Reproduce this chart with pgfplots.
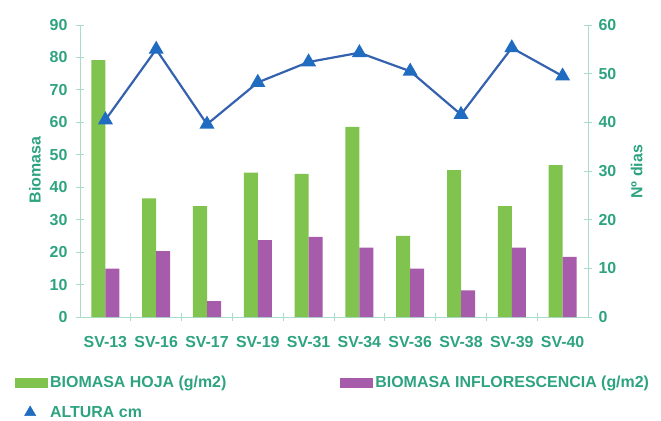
\documentclass[border=0pt]{standalone}
\usepackage{pgfplots}
\pgfplotsset{compat=1.18}
\usepackage{fontspec}
\setmainfont{Liberation Sans}
\definecolor{txtgreen}{HTML}{2DA37F}
\definecolor{axgreen}{HTML}{A9DCCB}
\definecolor{bargreen}{HTML}{80C34F}
\definecolor{barpurple}{HTML}{A65CAA}
\definecolor{linblue}{HTML}{3562AE}
\definecolor{mkblue}{HTML}{1F6CC0}
\pgfplotstableread{
x hoja inflo altura
0 79.2 14.9 40.5
1 36.6 20.3 55.0
2 34.2 4.9 39.6
3 44.5 23.7 48.2
4 44.1 24.7 52.4
5 58.6 21.4 54.3
6 25.0 14.9 50.5
7 45.3 8.2 41.6
8 34.2 21.4 55.3
9 46.8 18.5 49.5
}\data
\begin{document}
\begin{tikzpicture}[font=\fontsize{16}{19}\selectfont\bfseries]
\path[use as bounding box] (-80bp,-104bp) rectangle (581bp,317bp);
\begin{axis}[
  scale only axis, width=508bp, height=292bp,
  at={(0,0)}, anchor=south west,
  xmin=-0.5, xmax=9.5, ymin=0, ymax=90,
  axis x line=bottom, axis y line=left,
  axis line style={draw=axgreen, line width=0.8bp, -},
  x axis line style={-}, y axis line style={-},
  xtick={0,...,9},
  xticklabels={SV-13,SV-16,SV-17,SV-19,SV-31,SV-34,SV-36,SV-38,SV-39,SV-40},
  minor xtick={0.5,1.5,...,8.5},
  major x tick style={draw=none},
  minor tick length=8bp, major tick length=8bp,
  tick align=center,
  tick style={draw=axgreen, line width=0.8bp},
  ytick={0,10,...,90},
  ticklabel style={text=txtgreen, font=\fontsize{16}{19}\selectfont\bfseries},
  /pgf/number format/assume math mode=true,
  xticklabel style={yshift=-12bp},
  yticklabel style={xshift=-5bp},
  ylabel={Biomasa},
  every axis y label/.style={at={(axis description cs:-0.0886,0.503)}, rotate=90, anchor=center, text=txtgreen, font=\fontsize{16}{19}\selectfont\bfseries},
  legend columns=2,
  legend style={at={(-0.128,-0.195)}, anchor=north west, draw=none, fill=none,
    inner sep=0pt, text=txtgreen, font=\fontsize{16}{19}\selectfont\bfseries,
    /tikz/every even column/.append style={column sep=112bp},
    row sep=13bp},
  legend cell align=left,
]
\addplot[ybar, bar width=14bp, bar shift=-7bp, fill=bargreen, draw=none,
  legend image code/.code={\fill[bargreen] (0bp,-5bp) rectangle (33bp,5bp);}]
  table[x=x, y=hoja] {\data};
\addlegendentry{BIOMASA HOJA (g/m2)}
\addplot[ybar, bar width=14bp, bar shift=7bp, fill=barpurple, draw=none,
  legend image code/.code={\fill[barpurple] (0bp,-5bp) rectangle (33bp,5bp);}]
  table[x=x, y=inflo] {\data};
\addlegendentry{BIOMASA INFLORESCENCIA (g/m2)}
\addlegendimage{only marks, mark=triangle*, mark size=6.5bp, color=mkblue,
  legend image code/.code={\draw[mkblue, fill=mkblue] plot[mark=triangle*, mark size=6.5bp] coordinates {(15bp,0bp)};}}
\addlegendentry{ALTURA cm}
\end{axis}
\begin{axis}[
  scale only axis, width=508bp, height=292bp,
  at={(0,0)}, anchor=south west,
  xmin=-0.5, xmax=9.5, ymin=0, ymax=60,
  axis x line=none, axis y line=right,
  axis line style={draw=axgreen, line width=0.8bp, -},
  y axis line style={-},
  ytick={0,10,...,60},
  major tick length=8bp, tick align=center,
  tick style={draw=axgreen, line width=0.8bp},
  ticklabel style={text=txtgreen, font=\fontsize{16}{19}\selectfont\bfseries},
  yticklabel style={xshift=3bp},
  /pgf/number format/assume math mode=true,
  ylabel={Nº dias},
  every axis y label/.style={at={(axis description cs:1.096,0.497)}, rotate=90, anchor=center, text=txtgreen, font=\fontsize{16}{19}\selectfont\bfseries},
]
\addplot[color=linblue, line width=2.2bp, mark=triangle*, mark size=6.5bp,
  mark options={fill=mkblue, draw=mkblue}]
  table[x=x, y=altura] {\data};
\end{axis}
\end{tikzpicture}
\end{document}
